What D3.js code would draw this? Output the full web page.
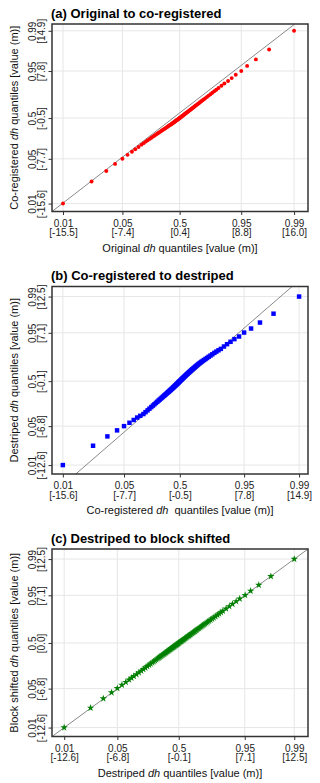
<!DOCTYPE html>
<html>
<head>
<meta charset="utf-8">
<script src="https://cdn.jsdelivr.net/npm/d3@7"></script>
<style>
  body { margin: 0; background: #fff; }
  svg { display: block; font-family: "Liberation Sans", Arial, sans-serif; }
</style>
</head>
<body>
<script>
// quantile probabilities shown on the axes
const probLabels = ["0.01", "0.05", "0.5", "0.95", "0.99"];

// dh value at each labelled quantile, per dataset
const origTicks = [-15.5, -7.4, 0.4, 8.8, 16.0];
const coregTicks = [-15.6, -7.7, -0.5, 7.8, 14.9];
const destrTicks = [-12.6, -6.8, -0.1, 7.1, 12.5];
const blockTicks = [-12.6, -6.8, 0.0, 7.1, 12.5];

// dh quantiles at p = 0.01 ... 0.99
const origQ = [
  -15.5, -11.6, -9.6, -8.4, -7.4, -6.7, -6.1, -5.65, -5.2, -4.8,
  -4.51, -4.21, -3.95, -3.68, -3.45, -3.22, -3.01, -2.81, -2.62, -2.44,
  -2.27, -2.11, -1.97, -1.82, -1.70, -1.57, -1.45, -1.33, -1.22, -1.12,
  -1.02, -0.93, -0.84, -0.74, -0.65, -0.56, -0.48, -0.40, -0.32, -0.24,
  -0.17, -0.11, -0.03, 0.03, 0.10, 0.16, 0.23, 0.28, 0.34, 0.40,
  0.47, 0.54, 0.61, 0.68, 0.75, 0.83, 0.91, 0.99, 1.07, 1.15,
  1.24, 1.33, 1.42, 1.51, 1.61, 1.71, 1.81, 1.91, 2.01, 2.12,
  2.23, 2.35, 2.47, 2.60, 2.73, 2.87, 3.02, 3.18, 3.35, 3.53,
  3.72, 3.92, 4.13, 4.36, 4.60, 4.86, 5.12, 5.40, 5.70, 6.10,
  6.5, 7.0, 7.5, 8.05, 8.8, 9.6, 10.8, 12.6, 16.0
];
const coregQ = [
  -15.6, -11.7, -9.85, -8.6, -7.7, -7.0, -6.45, -6.0, -5.6, -5.2,
  -4.93, -4.66, -4.42, -4.18, -3.97, -3.77, -3.58, -3.41, -3.24, -3.09,
  -2.94, -2.80, -2.67, -2.54, -2.43, -2.32, -2.21, -2.11, -2.01, -1.92,
  -1.83, -1.75, -1.67, -1.58, -1.50, -1.42, -1.34, -1.27, -1.19, -1.12,
  -1.05, -0.99, -0.92, -0.86, -0.79, -0.73, -0.67, -0.62, -0.56, -0.50,
  -0.43, -0.36, -0.29, -0.22, -0.15, -0.07, 0.01, 0.09, 0.17, 0.25,
  0.34, 0.43, 0.52, 0.61, 0.71, 0.81, 0.91, 1.01, 1.11, 1.22,
  1.33, 1.45, 1.57, 1.70, 1.83, 1.97, 2.12, 2.28, 2.45, 2.63,
  2.82, 3.02, 3.23, 3.46, 3.70, 3.96, 4.22, 4.50, 4.80, 5.20,
  5.6, 6.05, 6.55, 7.15, 7.8, 8.7, 9.85, 11.6, 14.9
];
const destrQ = [
  -12.6, -9.72, -8.33, -7.43, -6.8, -6.3, -5.88, -5.52, -5.26, -5.0,
  -4.72, -4.45, -4.20, -3.96, -3.74, -3.54, -3.34, -3.17, -2.99, -2.84,
  -2.69, -2.55, -2.41, -2.28, -2.17, -2.06, -1.95, -1.84, -1.74, -1.65,
  -1.56, -1.47, -1.39, -1.29, -1.21, -1.12, -1.04, -0.96, -0.88, -0.80,
  -0.72, -0.65, -0.58, -0.51, -0.43, -0.36, -0.29, -0.23, -0.17, -0.10,
  -0.02, 0.06, 0.14, 0.22, 0.30, 0.39, 0.48, 0.57, 0.66, 0.75,
  0.85, 0.95, 1.04, 1.14, 1.24, 1.35, 1.45, 1.56, 1.66, 1.77,
  1.88, 2.00, 2.12, 2.25, 2.38, 2.51, 2.64, 2.77, 2.91, 3.05,
  3.20, 3.36, 3.53, 3.71, 3.90, 4.11, 4.30, 4.50, 4.71, 5.06,
  5.41, 5.76, 6.16, 6.55, 7.14, 7.74, 8.63, 9.95, 12.5
];
const blockQ = [
  -12.6, -9.67, -8.28, -7.38, -6.75, -6.25, -5.83, -5.47, -5.21, -4.95,
  -4.67, -4.40, -4.15, -3.91, -3.69, -3.47, -3.27, -3.10, -2.92, -2.77,
  -2.62, -2.48, -2.33, -2.20, -2.09, -1.98, -1.87, -1.76, -1.66, -1.57,
  -1.48, -1.39, -1.30, -1.20, -1.12, -1.03, -0.95, -0.87, -0.79, -0.71,
  -0.63, -0.56, -0.49, -0.42, -0.34, -0.27, -0.20, -0.14, -0.07, 0.00,
  0.08, 0.16, 0.24, 0.31, 0.39, 0.48, 0.57, 0.66, 0.75, 0.84,
  0.94, 1.04, 1.13, 1.23, 1.33, 1.44, 1.54, 1.65, 1.75, 1.86,
  1.97, 2.09, 2.21, 2.34, 2.47, 2.60, 2.73, 2.86, 3.00, 3.14,
  3.28, 3.43, 3.60, 3.77, 3.96, 4.17, 4.36, 4.56, 4.77, 5.11,
  5.46, 5.80, 6.20, 6.59, 7.12, 7.76, 8.63, 9.93, 12.5
];

const width = 320;
const height = 783;
const plotLeft = 52;
const plotRight = 308;
const plotH = 187.5;

const panels = [
  {
    title: "(a) Original to co-registered",
    xq: origQ, yq: coregQ, xt: origTicks, yt: coregTicks,
    xName: ["Original ", "dh", " quantiles [value (m)]"],
    yName: ["Co-registered ", "dh", " quantiles [value (m)]"],
    xDom: [-17.0, 17.9], yDom: [-17.0, 16.1],
    symbol: d3.symbolCircle, size: 12, color: "#ff0000", top: 24
  },
  {
    title: "(b) Co-registered to destriped",
    xq: coregQ, yq: destrQ, xt: coregTicks, yt: destrTicks,
    xName: ["Co-registered ", "dh", "  quantiles [value (m)]"],
    yName: ["Destriped ", "dh", " quantiles [value (m)]"],
    xDom: [-17.0, 16.05], yDom: [-13.93, 14.0],
    symbol: d3.symbolSquare, size: 20, color: "#0000ff", top: 286.5
  },
  {
    title: "(c) Destriped to block shifted",
    xq: destrQ, yq: blockQ, xt: destrTicks, yt: blockTicks,
    xName: ["Destriped ", "dh", " quantiles [value (m)]"],
    yName: ["Block shifted ", "dh", " quantiles [value (m)]"],
    xDom: [-13.93, 14.0], yDom: [-13.93, 14.0],
    symbol: d3.symbolStar, size: 17, color: "#008000", top: 549
  }
];

const svg = d3
  .select("body")
  .append("svg")
  .attr("width", width)
  .attr("height", height);

svg.append("rect").attr("width", width).attr("height", height).attr("fill", "#fff");

panels.forEach(drawPanel);

function addLabel(sel, parts) {
  sel.append("tspan").text(parts[0]);
  sel.append("tspan").attr("font-style", "italic").text(parts[1]);
  sel.append("tspan").text(parts[2]);
}

function drawPanel(p) {
  const g = svg.append("g").attr("transform", "translate(0," + p.top + ")");
  const x = d3.scaleLinear().domain(p.xDom).range([plotLeft, plotRight]);
  const y = d3.scaleLinear().domain(p.yDom).range([plotH, 0]);

  // title
  g.append("text")
    .attr("x", 51)
    .attr("y", -6.5)
    .attr("font-size", 13)
    .attr("font-weight", "bold")
    .attr("fill", "#000")
    .text(p.title);

  // grid
  g.append("g")
    .selectAll("line")
    .data(p.xt)
    .join("line")
    .attr("x1", (d) => x(d))
    .attr("x2", (d) => x(d))
    .attr("y1", 0)
    .attr("y2", plotH)
    .attr("stroke", "#e6e6e6");
  g.append("g")
    .selectAll("line")
    .data(p.yt)
    .join("line")
    .attr("x1", plotLeft)
    .attr("x2", plotRight)
    .attr("y1", (d) => y(d))
    .attr("y2", (d) => y(d))
    .attr("stroke", "#e6e6e6");

  // 1:1 line
  const lo = Math.max(p.xDom[0], p.yDom[0]);
  const hi = Math.min(p.xDom[1], p.yDom[1]);
  g.append("line")
    .attr("x1", x(lo))
    .attr("y1", y(lo))
    .attr("x2", x(hi))
    .attr("y2", y(hi))
    .attr("stroke", "#8a8a8a")
    .attr("stroke-width", 1);

  // quantile points
  const pts = p.xq.map((v, i) => [v, p.yq[i]]);
  g.append("g")
    .selectAll("path")
    .data(pts)
    .join("path")
    .attr("transform", (d) => "translate(" + x(d[0]) + "," + y(d[1]) + ")")
    .attr("d", d3.symbol(p.symbol, p.size))
    .attr("fill", p.color);

  // frame
  g.append("rect")
    .attr("x", plotLeft)
    .attr("y", 0)
    .attr("width", plotRight - plotLeft)
    .attr("height", plotH)
    .attr("fill", "none")
    .attr("stroke", "#333")
    .attr("stroke-width", 1.5);

  // x axis
  const xa = g
    .append("g")
    .attr("transform", "translate(0," + plotH + ")")
    .call(d3.axisBottom(x).tickValues(p.xt).tickSize(3.5).tickFormat(""));
  xa.select(".domain").remove();
  xa.selectAll(".tick line").attr("stroke", "#333");
  const xt = xa
    .selectAll(".tick")
    .append("text")
    .attr("fill", "#222")
    .attr("font-size", 10)
    .attr("font-family", "Liberation Sans, Arial, sans-serif")
    .attr("text-anchor", "middle");
  xt.append("tspan").attr("x", 0).attr("y", 15).text((d, i) => probLabels[i]);
  xt.append("tspan").attr("x", 0).attr("y", 24.5).text((d) => "[" + d.toFixed(1) + "]");

  // y axis
  const ya = g
    .append("g")
    .attr("transform", "translate(" + plotLeft + ",0)")
    .call(d3.axisLeft(y).tickValues(p.yt).tickSize(3.5).tickFormat(""));
  ya.select(".domain").remove();
  ya.selectAll(".tick line").attr("stroke", "#333");
  const yt = ya
    .selectAll(".tick")
    .append("text")
    .attr("transform", "rotate(-90)")
    .attr("fill", "#222")
    .attr("font-size", 10)
    .attr("font-family", "Liberation Sans, Arial, sans-serif")
    .attr("text-anchor", "middle");
  yt.append("tspan").attr("x", 0).attr("y", -16).text((d, i) => probLabels[i]);
  yt.append("tspan").attr("x", 0).attr("y", -7.5).text((d) => "[" + d.toFixed(1) + "]");

  // axis titles
  g.append("text")
    .attr("x", (plotLeft + plotRight) / 2)
    .attr("y", plotH + 40)
    .attr("text-anchor", "middle")
    .attr("font-size", 11)
    .attr("fill", "#111")
    .style("white-space", "pre")
    .call(addLabel, p.xName);
  g.append("text")
    .attr("transform", "translate(17.5," + plotH / 2 + ") rotate(-90)")
    .attr("text-anchor", "middle")
    .attr("font-size", 11)
    .attr("fill", "#111")
    .style("white-space", "pre")
    .call(addLabel, p.yName);
}
</script>
</body>
</html>
